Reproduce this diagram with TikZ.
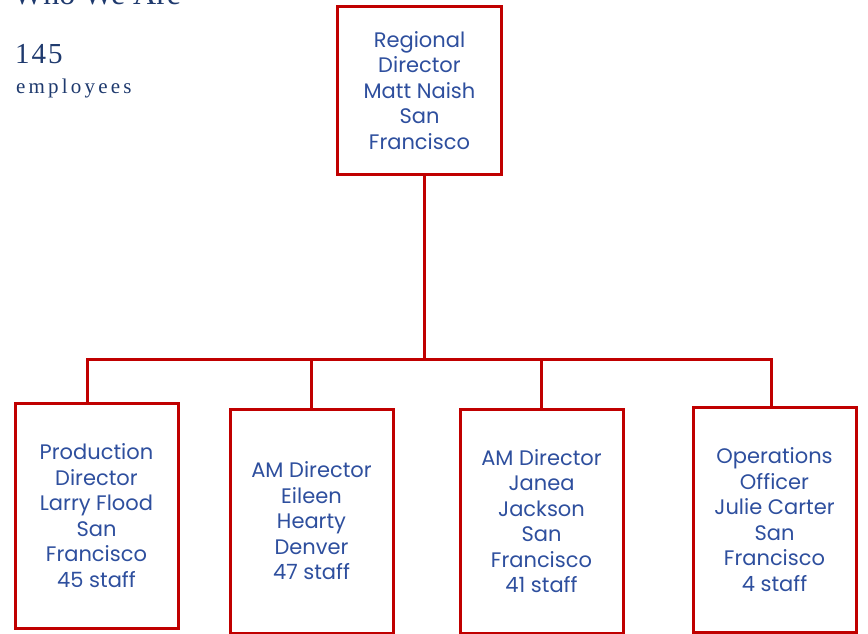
\documentclass[tikz,border=0pt]{standalone}
\usepackage{fontspec}
\setmainfont{Liberation Serif}
\newfontfamily\boxfont{Poppins}
\definecolor{boxred}{HTML}{C00000}
\definecolor{boxtext}{HTML}{2E4F9E}
\definecolor{navy}{HTML}{1F3A6E}
\newcommand{\ls}{\kern3.2pt}
\begin{document}
\begin{tikzpicture}[x=1pt,y=-1pt,
  orgbox/.style={draw=boxred, line width=3pt, fill=white, align=center,
    inner sep=0pt, text=boxtext, font=\boxfont\fontsize{21}{25.5}\selectfont},
  conn/.style={draw=boxred, line width=3pt},
  lefttext/.style={text=navy, inner sep=0pt}]
\useasboundingbox (0,0) rectangle (868,634);
\clip (0,0) rectangle (868,634);
\fill[white] (0,0) rectangle (868,634);
\node[lefttext, anchor=base west, font=\fontsize{32}{32}\selectfont] (title) at (13,5) {Who We Are};
\node[lefttext, anchor=base west, font=\fontsize{29}{29}\selectfont] (num) at (15,64) {1\kern2pt 4\kern2pt 5};
\node[lefttext, anchor=base west, font=\fontsize{21}{21}\selectfont] (emp) at (16,93) {e\ls m\ls p\ls l\ls o\ls y\ls e\ls e\ls s};
\node[orgbox, minimum width=164pt, minimum height=167pt] (top) at (419.5,90.5)
  {Regional\\Director\\Matt Naish\\San\\Francisco};
\node[orgbox, minimum width=163pt, minimum height=225pt] (b1) at (96.5,515.5)
  {Production\\Director\\Larry Flood\\San\\Francisco\\45 staff};
\node[orgbox, minimum width=163pt, minimum height=224pt] (b2) at (311.5,521)
  {AM Director\\Eileen\\Hearty\\Denver\\47 staff};
\node[orgbox, minimum width=163pt, minimum height=224pt] (b3) at (541.5,521)
  {AM Director\\Janea\\Jackson\\San\\Francisco\\41 staff};
\node[orgbox, minimum width=163pt, minimum height=225pt] (b4) at (774.5,519.5)
  {Operations\\Officer\\Julie Carter\\San\\Francisco\\4 staff};
\coordinate (bar) at (424,359);
\draw[conn] ([xshift=4.5pt]top.south) -- (bar);
\draw[conn] ([xshift=-9.5pt]b1.north) |- (bar);
\draw[conn] ([xshift=-3.5pt]b4.north) |- (bar);
\draw[conn] (b2.north) -- (b2.north |- bar);
\draw[conn] (b3.north) -- (b3.north |- bar);
\end{tikzpicture}
\end{document}
